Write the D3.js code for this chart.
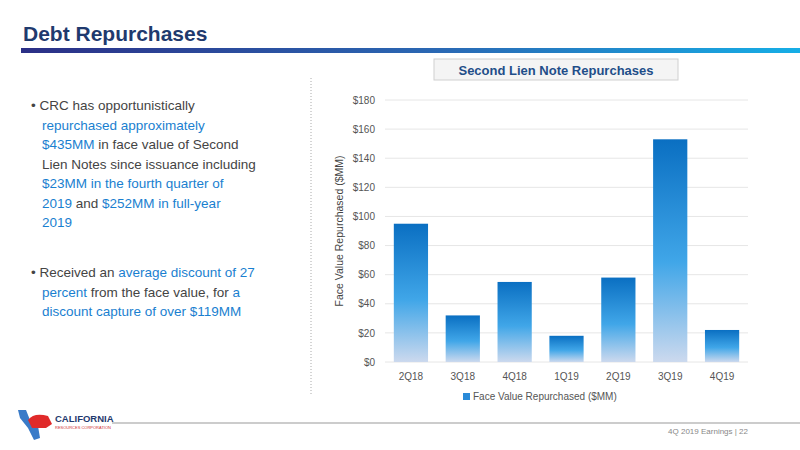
<!DOCTYPE html>
<html><head><meta charset="utf-8">
<script src="https://cdn.jsdelivr.net/npm/d3@7"></script>
<style>body{margin:0;background:#fff}svg{font-family:"Liberation Sans",Arial,sans-serif}</style>
</head><body>
<svg width="800" height="450"></svg>
<script>
var quarters = ["2Q18", "3Q18", "4Q18", "1Q19", "2Q19", "3Q19", "4Q19"];
var repurchased = [95, 32, 55, 18, 58, 153, 22];
var yTicks = [0, 20, 40, 60, 80, 100, 120, 140, 160, 180];

var svg = d3.select("svg");
var defs = svg.append("defs");

var hg = defs.append("linearGradient").attr("id", "rule");
hg.append("stop").attr("offset", "0%").attr("stop-color", "#2b2f86");
hg.append("stop").attr("offset", "55%").attr("stop-color", "#2a6ab5");
hg.append("stop").attr("offset", "100%").attr("stop-color", "#16aee6");

var bg = defs.append("linearGradient").attr("id", "bar")
    .attr("x1", 0).attr("y1", 0).attr("x2", 0).attr("y2", 1);
bg.append("stop").attr("offset", "0%").attr("stop-color", "#0a6fc2");
bg.append("stop").attr("offset", "55%").attr("stop-color", "#40a6e8");
bg.append("stop").attr("offset", "100%").attr("stop-color", "#ccd9ee");

// header
svg.append("text").attr("x", 23).attr("y", 41).attr("fill", "#1f3a6e")
    .style("font-size", "21px").style("font-weight", "bold").text("Debt Repurchases");
svg.append("rect").attr("x", 21).attr("y", 48).attr("width", 779).attr("height", 5).attr("fill", "url(#rule)");

// chart title box
svg.append("rect").attr("x", 284 + 0).attr("y", 59).attr("width", 0).attr("height", 0);
svg.append("rect").attr("x", 434).attr("y", 59).attr("width", 244).attr("height", 21)
    .attr("fill", "#f4f4f4").attr("stroke", "#d0d0d0");
svg.append("text").attr("x", 556).attr("y", 75).attr("text-anchor", "middle").attr("fill", "#1f4e89")
    .style("font-size", "13px").style("font-weight", "bold").text("Second Lien Note Repurchases");

// dotted separator
svg.append("line").attr("x1", 311).attr("x2", 311).attr("y1", 78).attr("y2", 395)
    .attr("stroke", "#aaa").attr("stroke-dasharray", "1,2");

// bullets
var bullets = [
  [[["• CRC has opportunistically", 0]], [["repurchased approximately", 1]],
   [["$435MM", 1], [" in face value of Second", 0]], [["Lien Notes since issuance including", 0]],
   [["$23MM in the fourth quarter of", 1]], [["2019", 1], [" and ", 0], ["$252MM in full-year", 1]], [["2019", 1]]],
  [[["• Received an ", 0], ["average discount of 27", 1]],
   [["percent", 1], [" from the face value, for ", 0], ["a", 1]], [["discount capture of over $119MM", 1]]]
];
var starts = [110, 277];
bullets.forEach(function(lines, b) {
  lines.forEach(function(line, i) {
    var t = svg.append("text").attr("x", b === 0 && i > 0 || b === 1 && i > 0 ? 42 : 31)
        .attr("y", starts[b] + i * 19.5).style("font-size", "13.5px");
    line.forEach(function(seg) {
      t.append("tspan").attr("fill", seg[1] ? "#1a7fd0" : "#444").text(seg[0]);
    });
  });
});

// chart
var x = d3.scaleBand().domain(quarters).range([385, 748]).paddingInner(0.34).paddingOuter(0.17);
var y = d3.scaleLinear().domain([0, 180]).range([362, 100]);

svg.append("g").selectAll("line").data(yTicks).enter().append("line")
    .attr("x1", 385).attr("x2", 748)
    .attr("y1", function(d) { return y(d); }).attr("y2", function(d) { return y(d); })
    .attr("stroke", "#e6e6e6");

var ya = svg.append("g").attr("transform", "translate(378,0)")
    .call(d3.axisLeft(y).tickValues(yTicks).tickSize(0).tickFormat(function(d) { return "$" + d; }));
ya.select(".domain").remove();
ya.selectAll("text").attr("fill", "#555").style("font-size", "10px");

svg.selectAll(".bar").data(repurchased).enter().append("rect")
    .attr("class", "bar")
    .attr("x", function(d, i) { return x(quarters[i]); })
    .attr("y", function(d) { return y(d); })
    .attr("width", x.bandwidth())
    .attr("height", function(d) { return 362 - y(d); })
    .attr("fill", "url(#bar)");

var xa = svg.append("g").attr("transform", "translate(0,362)")
    .call(d3.axisBottom(x).tickSize(0).tickPadding(11));
xa.select(".domain").remove();
xa.selectAll("text").attr("fill", "#555").style("font-size", "10px");

svg.append("text").attr("transform", "translate(343,231) rotate(-90)").attr("text-anchor", "middle")
    .attr("fill", "#444").style("font-size", "10.5px").text("Face Value Repurchased ($MM)");

svg.append("rect").attr("x", 463).attr("y", 393).attr("width", 7).attr("height", 7).attr("fill", "#2a8ad8");
svg.append("text").attr("x", 473).attr("y", 400).attr("fill", "#555").style("font-size", "10px")
    .text("Face Value Repurchased ($MM)");

// footer
svg.append("line").attr("x1", 112).attr("x2", 800).attr("y1", 423).attr("y2", 423).attr("stroke", "#999");
svg.append("path").attr("d", "M18,410 L26,410 L30,420 L38,426 L40,438 L34,440 L28,428 L20,418 Z").attr("fill", "#3a7bc8");
svg.append("path").attr("d", "M28,420 Q34,412 48,416 L52,424 L46,428 L32,428 Z").attr("fill", "#e02a2a");
svg.append("text").attr("x", 55).attr("y", 422).attr("fill", "#1f3a6e").style("font-size", "9.5px")
    .style("font-weight", "bold").text("CALIFORNIA");
svg.append("text").attr("x", 55).attr("y", 429).attr("fill", "#d03030").style("font-size", "4px")
    .text("RESOURCES CORPORATION");
svg.append("text").attr("x", 748).attr("y", 434).attr("text-anchor", "end").attr("fill", "#888")
    .style("font-size", "8px").text("4Q 2019 Earnings | 22");
</script>
</body></html>
